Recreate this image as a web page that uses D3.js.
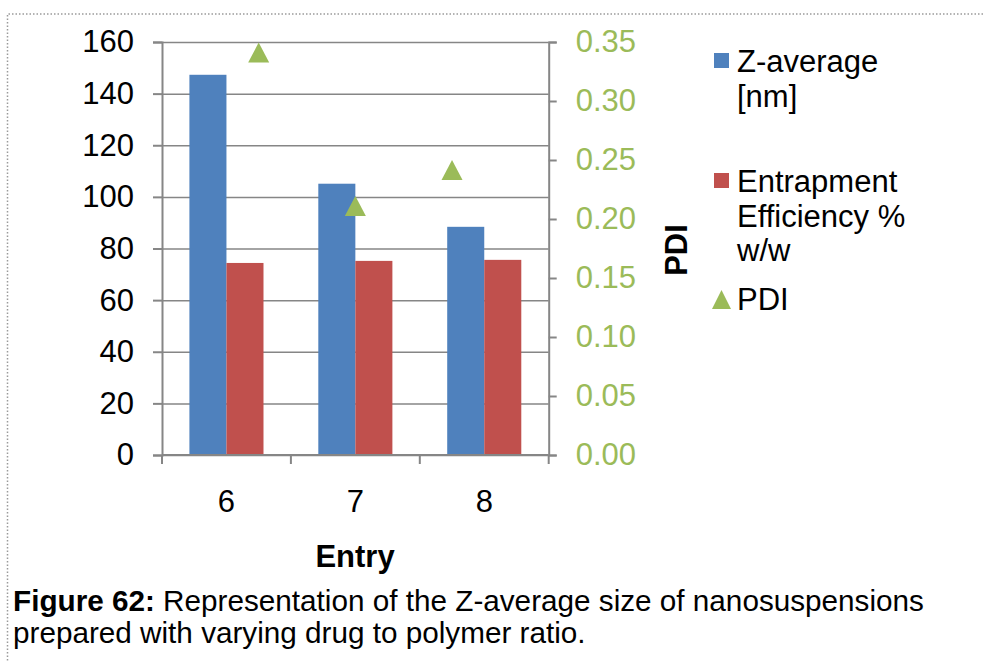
<!DOCTYPE html>
<html><head><meta charset="utf-8">
<script src="https://cdn.jsdelivr.net/npm/d3@7/dist/d3.min.js"></script>
<style>
body{margin:0;background:#fff;}
svg{display:block;font-family:"Liberation Sans",Arial,sans-serif;}
</style></head>
<body><svg id="c" width="984" height="661"></svg>
<script>
const categories = ["6","7","8"];
const seriesNames = ["Z-average [nm]","Entrapment Efficiency % w/w"];
const zAverage = [147.3, 105.1, 88.4];
const entrapment = [74.4, 75.2, 75.6];
const pdi = [0.341, 0.211, 0.2415];
const pdiX = [1, 2, 3];
const leftTicks = [0,20,40,60,80,100,120,140,160];
const rightTicks = [0,0.05,0.10,0.15,0.20,0.25,0.30,0.35];

const colors = {z:"#4F81BD", e:"#C0504D", p:"#9BBB59"};
const svg = d3.select("#c");
const L = 162, R = 548.7, T = 42, B = 455;
const axisColor = "#868686";
const fs = 31;

// dotted frame
svg.append("path").attr("d", `M7.5,${1000} L7.5,14 L1000,14`)
  .attr("fill","none").attr("stroke","#9a9a9a").attr("stroke-width",1.5).attr("stroke-dasharray","1.5,2");

const x = d3.scaleBand().domain(categories).range([L,R]).paddingInner(0).paddingOuter(0);
const xs = d3.scaleBand().domain(seriesNames).range([0,x.bandwidth()]).paddingInner(0).paddingOuter(0.74);
const yL = d3.scaleLinear().domain([0,160]).range([B,T]);
const yR = d3.scaleLinear().domain([0,0.35]).range([B,T]);
const xP = d3.scaleLinear().domain([0,4]).range([L,R]);

// gridlines
const grid = svg.append("g").attr("transform",`translate(${L},0)`)
  .call(d3.axisLeft(yL).tickValues(leftTicks).tickSize(-(R-L)).tickFormat(""));
grid.select(".domain").remove();
grid.selectAll("line").attr("stroke",axisColor).attr("stroke-width",1.5);

// bars
const rows = categories.map((c,i)=>({c, vals:[zAverage[i], entrapment[i]]}));
const g = svg.append("g");
rows.forEach(r=>{
  g.selectAll(null).data(r.vals.map((v,j)=>({v, s:seriesNames[j], j}))).enter()
   .append("rect")
   .attr("x", d=>x(r.c)+xs(d.s))
   .attr("width", xs.bandwidth())
   .attr("y", d=>yL(d.v))
   .attr("height", d=>B-yL(d.v))
   .attr("fill", d=>d.j===0?colors.z:colors.e);
});

// left axis
const la = svg.append("g").attr("transform",`translate(${L},0)`)
  .call(d3.axisLeft(yL).tickValues(leftTicks).tickSize(9).tickPadding(19));
la.select(".domain").attr("stroke",axisColor).attr("stroke-width",2);
la.selectAll("line").attr("stroke",axisColor).attr("stroke-width",2);
la.selectAll("text").attr("font-size",fs).attr("fill","#000").attr("font-family","Liberation Sans, Arial, sans-serif");

// right axis
const ra = svg.append("g").attr("transform",`translate(${R},0)`)
  .call(d3.axisRight(yR).tickValues(rightTicks).tickSize(8).tickPadding(19).tickFormat(d3.format(".2f")));
ra.select(".domain").attr("stroke",axisColor).attr("stroke-width",2);
ra.selectAll("line").attr("stroke",axisColor).attr("stroke-width",2);
ra.selectAll("text").attr("font-size",fs).attr("fill",colors.p).attr("font-family","Liberation Sans, Arial, sans-serif");

// bottom axis
svg.append("line").attr("x1",L).attr("x2",R).attr("y1",B).attr("y2",B).attr("stroke",axisColor).attr("stroke-width",2);
const bounds = categories.map(c=>x(c)).concat([x(categories[categories.length-1])+x.bandwidth()]);
svg.selectAll(null).data(bounds).enter().append("line")
  .attr("x1",d=>d).attr("x2",d=>d).attr("y1",B).attr("y2",B+9)
  .attr("stroke",axisColor).attr("stroke-width",2);
svg.selectAll(null).data(categories).enter().append("text")
  .attr("x",d=>x(d)+x.bandwidth()/2).attr("y",512)
  .attr("text-anchor","middle").attr("font-size",fs).text(d=>d);

// PDI markers
svg.selectAll(null).data(pdi.map((v,i)=>({v, xi:pdiX[i]}))).enter().append("path")
  .attr("d", d=>{const cx=xP(d.xi), cy=yR(d.v); return `M${cx},${cy-10}L${cx+10.5},${cy+10}L${cx-10.5},${cy+10}Z`;})
  .attr("fill",colors.p);

// axis titles
svg.append("text").attr("x",355).attr("y",567).attr("text-anchor","middle")
  .attr("font-size",fs).attr("font-weight","bold").text("Entry");
svg.append("text").attr("transform","translate(687,250) rotate(-90)").attr("text-anchor","middle")
  .attr("font-size",fs).attr("font-weight","bold").text("PDI");

// legend
const leg = svg.append("g");
const legendItems = [
  {lines:["Z-average","[nm]"], color:colors.z, shape:"rect", y:72},
  {lines:["Entrapment","Efficiency %","w/w"], color:colors.e, shape:"rect", y:192},
  {lines:["PDI"], color:colors.p, shape:"tri", y:310}
];
legendItems.forEach(it=>{
  if(it.shape==="rect"){
    leg.append("rect").attr("x",714).attr("y",it.y-19).attr("width",15).attr("height",15).attr("fill",it.color);
  } else {
    leg.append("path").attr("d",`M721.5,${it.y-20}L731,${it.y-1}L712,${it.y-1}Z`).attr("fill",it.color);
  }
  const t = leg.append("text").attr("x",737).attr("y",it.y).attr("font-size",fs);
  it.lines.forEach((l,i)=>t.append("tspan").attr("x",737).attr("dy",i===0?0:34.5).text(l));
});

// caption
const cap = svg.append("text").attr("x",13).attr("y",611).attr("font-size",29.7);
cap.append("tspan").attr("font-weight","bold").text("Figure 62:");
cap.append("tspan").text(" Representation of the Z-average size of nanosuspensions");
svg.append("text").attr("x",13).attr("y",643).attr("font-size",29.7).text("prepared with varying drug to polymer ratio.");
</script></body></html>
